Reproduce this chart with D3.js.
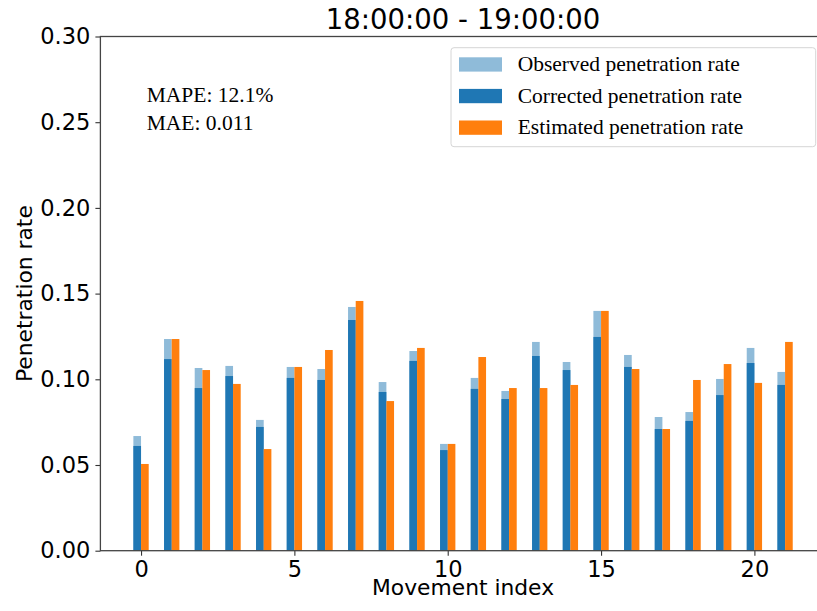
<!DOCTYPE html>
<html>
<head>
<meta charset="utf-8">
<script src="https://cdn.jsdelivr.net/npm/d3@7"></script>
<style>
  html, body { margin: 0; padding: 0; background: #fff; }
  svg { display: block; }
</style>
</head>
<body>
<div id="chart"></div>
<script>
// Penetration rate per movement, 18:00-19:00
const movements = d3.range(22);
const observed  = [0.0669, 0.1235, 0.1066, 0.1078, 0.0763, 0.1072, 0.1060, 0.1422, 0.0984, 0.1165, 0.0623,
                   0.1008, 0.0932, 0.1218, 0.1101, 0.1399, 0.1142, 0.0780, 0.0809, 0.1002, 0.1183, 0.1043];
const corrected = [0.0611, 0.1118, 0.0949, 0.1019, 0.0722, 0.1008, 0.0996, 0.1346, 0.0926, 0.1107, 0.0587,
                   0.0944, 0.0885, 0.1136, 0.1054, 0.1247, 0.1072, 0.0710, 0.0757, 0.0908, 0.1095, 0.0967];
const estimated = [0.0506, 0.1235, 0.1054, 0.0973, 0.0593, 0.1072, 0.1171, 0.1457, 0.0873, 0.1183, 0.0623,
                   0.1130, 0.0949, 0.0949, 0.0967, 0.1399, 0.1060, 0.0710, 0.0996, 0.1089, 0.0979, 0.1218];
const xTicks = [0, 5, 10, 15, 20];
const yTicks = [0, 0.05, 0.10, 0.15, 0.20, 0.25, 0.30];
const titleText = "18:00:00 - 19:00:00";
const statLines = ["MAPE: 12.1%", "MAE: 0.011"];
const legendLabels = ["Observed penetration rate", "Corrected penetration rate", "Estimated penetration rate"];
const colors = { observed: "#8fbbd9", corrected: "#1f77b4", estimated: "#ff7f0e" };

const W = 817, H = 611;
const plot = { left: 100.4, right: 825.7, top: 36.5, bottom: 550.7 };
const barW = 0.25;

const svg = d3.select("#chart").append("svg")
  .attr("width", W).attr("height", H)
  .attr("viewBox", `0 0 ${W} ${H}`);

const x = d3.scaleLinear().domain([-1.325, 22.325]).range([plot.left, plot.right]);
const y = d3.scaleLinear().domain([0, 0.30]).range([plot.bottom, plot.top]);

const sans = "'DejaVu Sans', sans-serif";
const serif = "'Liberation Serif', 'Times New Roman', serif";

// bars
const g = svg.append("g");
function bars(values, offset, color) {
  g.selectAll(null).data(movements).enter().append("rect")
    .attr("x", i => x(i + offset))
    .attr("width", i => x(i + offset + barW) - x(i + offset))
    .attr("y", i => y(values[i]))
    .attr("height", i => y(0) - y(values[i]))
    .attr("fill", color);
}
bars(observed, -barW, colors.observed);
bars(corrected, -barW, colors.corrected);
bars(estimated, 0, colors.estimated);

// axes
const xAxis = svg.append("g")
  .attr("transform", `translate(0,${plot.bottom})`)
  .call(d3.axisBottom(x).tickValues(xTicks).tickFormat(d3.format("d")).tickSize(5).tickPadding(5));
const yAxis = svg.append("g")
  .attr("transform", `translate(${plot.left},0)`)
  .call(d3.axisLeft(y).tickValues(yTicks).tickFormat(d3.format(".2f")).tickSize(5).tickPadding(5));
[xAxis, yAxis].forEach(a => {
  a.select(".domain").remove();
  a.selectAll(".tick line").attr("stroke", "#333").attr("stroke-width", 1.1);
  a.selectAll(".tick text").attr("font-family", sans).attr("font-size", 22.5).attr("fill", "#000");
});

// frame
svg.append("rect")
  .attr("x", plot.left).attr("y", plot.top)
  .attr("width", plot.right - plot.left).attr("height", plot.bottom - plot.top)
  .attr("fill", "none").attr("stroke", "#444").attr("stroke-width", 1.3);

// title and axis labels
svg.append("text")
  .attr("x", (plot.left + plot.right) / 2).attr("y", 28.5)
  .attr("text-anchor", "middle").attr("font-family", sans).attr("font-size", 27.5)
  .text(titleText);
svg.append("text")
  .attr("x", (plot.left + plot.right) / 2).attr("y", 595)
  .attr("text-anchor", "middle").attr("font-family", sans).attr("font-size", 21.8)
  .text("Movement index");
svg.append("text")
  .attr("transform", `translate(32,${(plot.top + plot.bottom) / 2}) rotate(-90)`)
  .attr("text-anchor", "middle").attr("font-family", sans).attr("font-size", 21.8)
  .text("Penetration rate");

// error statistics
svg.append("g").selectAll("text").data(statLines).enter().append("text")
  .attr("x", 146.7).attr("y", (d, i) => 101.7 + i * 28.5)
  .attr("font-family", serif).attr("font-size", 21.5)
  .text(d => d);

// legend
const leg = svg.append("g");
leg.append("rect")
  .attr("x", 451).attr("y", 47.7).attr("width", 364.7).attr("height", 99)
  .attr("rx", 3).attr("fill", "#fff").attr("fill-opacity", 0.8)
  .attr("stroke", "#d6d6d6").attr("stroke-width", 1);
const legColors = [colors.observed, colors.corrected, colors.estimated];
const legRows = leg.selectAll("g.row").data(legendLabels).enter().append("g")
  .attr("class", "row")
  .attr("transform", (d, i) => `translate(0,${i * 31.6})`);
legRows.append("rect")
  .attr("x", 459).attr("y", 57.3).attr("width", 43).attr("height", 14.3)
  .attr("fill", (d, i) => legColors[i]);
legRows.append("text")
  .attr("x", 517.7).attr("y", 71)
  .attr("font-family", serif).attr("font-size", 21.5)
  .text(d => d);
</script>
</body>
</html>
